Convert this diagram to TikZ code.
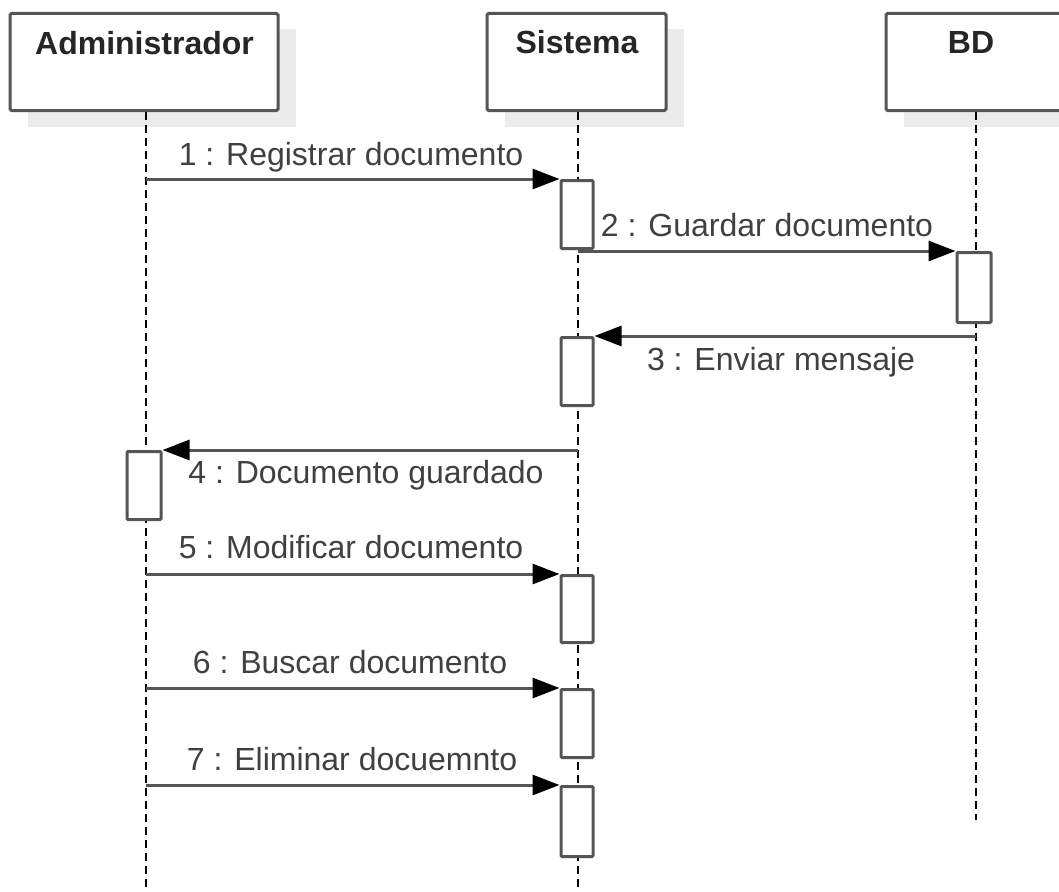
\documentclass[tikz,border=0pt]{standalone}
\usepackage{fontspec}
\setmainfont{Liberation Sans}
\usetikzlibrary{arrows.meta}
\definecolor{edge}{HTML}{555555}
\definecolor{shadowgray}{HTML}{EBEBEB}
\definecolor{msgtext}{HTML}{404040}
\tikzset{
  header/.style={draw=edge, line width=3pt, fill=white, rounded corners=1.5pt,
    minimum height=97pt, inner sep=0pt, anchor=north},
  headtext/.style={font=\fontsize{32}{37}\selectfont\bfseries, text=black!85, anchor=base},
  lifeline/.style={draw=black, line width=2.2pt, dash pattern=on 8pt off 5pt},
  activation/.style={draw=edge, line width=3pt, fill=white, rounded corners=1pt,
    minimum width=32pt, minimum height=68pt, inner sep=0pt, anchor=north},
  msg/.style={draw=edge, line width=3pt, -{Triangle[length=27pt,width=20pt,color=black]}},
  msglabel/.style={font=\fontsize{32}{37}\selectfont, text=msgtext, anchor=base}
}
\begin{document}
\begin{tikzpicture}[x=1pt,y=-1pt]
\clip (0,0) rectangle (1059,891);
\fill[white] (0,0) rectangle (1059,891);

% drop shadows of the participant boxes
\fill[shadowgray] (28,29) rectangle (296,127);
\fill[shadowgray] (505,29) rectangle (684,127);
\fill[shadowgray] (904,29) rectangle (1084,127);

% participants
\node[header, minimum width=268pt] (adm) at (144,12) {};
\node[header, minimum width=179pt] (sis) at (576.5,12) {};
\node[header, minimum width=180pt] (bd) at (976,12) {};
\node[headtext] (admt) at (144.5,55) {Administrador};
\node[headtext] (sist) at (577,54) {Sistema};
\node[headtext] (bdt) at (971,54) {BD};

% lifeline ends
\coordinate (admend) at (146,891);
\coordinate (sisend) at (578,891);
\coordinate (bdend) at (976,820);
\draw[lifeline] (adm.south -| admend) -- (admend);
\draw[lifeline] (sis.south -| sisend) -- (sisend);
\draw[lifeline] (bd.south -| bdend) -- (bdend);

% activation bars
\node[activation] (s1) at (577,179) {};
\node[activation, minimum width=34pt, minimum height=70pt] (b1) at (974,251) {};
\node[activation] (s2) at (577,336) {};
\node[activation, minimum width=34pt] (a1) at (144,450) {};
\node[activation, minimum height=67pt] (s3) at (577,574) {};
\node[activation] (s4) at (577,688) {};
\node[activation, minimum height=70pt] (s5) at (577,785) {};

% message start points on the lifelines
\coordinate (m1) at (146,179);
\coordinate (m2) at (578,251);
\coordinate (m3) at (976,336);
\coordinate (m4) at (578,450);
\coordinate (m5) at (146,574);
\coordinate (m6) at (146,688);
\coordinate (m7) at (146,785);

% messages
\draw[msg] (m1) -- (s1.north west);
\draw[msg] (m2) -- (b1.north west);
\draw[msg] (m3) -- (s2.north east);
\draw[msg] (m4) -- (a1.north east);
\draw[msg] (m5) -- (s3.north west);
\draw[msg] (m6) -- (s4.north west);
\draw[msg] (m7) -- (s5.north west);

% message labels
\node[msglabel] (l1) at (351,165) {1 : Registrar documento};
\node[msglabel] (l2) at (767,236) {2 : Guardar documento};
\node[msglabel] (l3) at (781,370) {3 : Enviar mensaje};
\node[msglabel] (l4) at (366,483) {4 : Documento guardado};
\node[msglabel] (l5) at (351,558) {5 : Modificar documento};
\node[msglabel] (l6) at (350,673) {6 : Buscar documento};
\node[msglabel] (l7) at (352,770) {7 : Eliminar docuemnto};
\end{tikzpicture}
\end{document}
